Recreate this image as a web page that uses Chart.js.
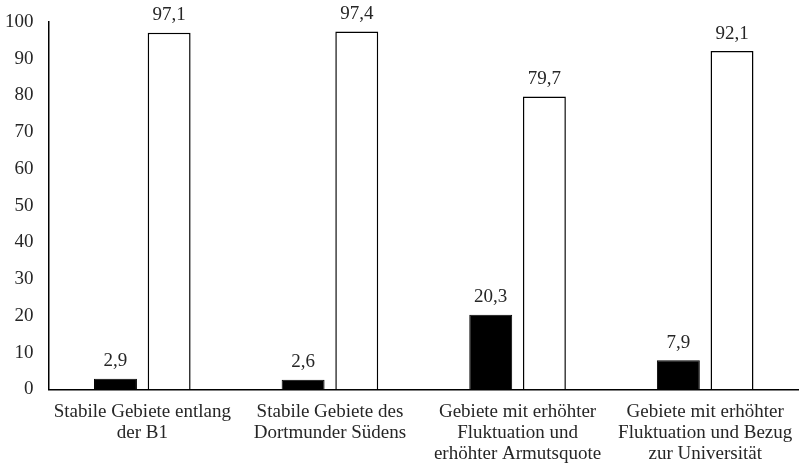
<!DOCTYPE html>
<html>
<head>
<meta charset="utf-8">
<script src="https://cdn.jsdelivr.net/npm/chart.js@4"></script>
<style>
  html, body { margin: 0; padding: 0; background: #fff; }
  #wrap { width: 799px; height: 467px; }
</style>
</head>
<body>
<div id="wrap"><canvas id="chart"></canvas></div>
<script>
const categories = [
  ["Stabile Gebiete entlang", "der B1"],
  ["Stabile Gebiete des", "Dortmunder Südens"],
  ["Gebiete mit erhöhter", "Fluktuation und", "erhöhter Armutsquote"],
  ["Gebiete mit erhöhter", "Fluktuation und Bezug", "zur Universität"]
];
const blackValues = [2.9, 2.6, 20.3, 7.9];
const whiteValues = [97.1, 97.4, 79.7, 92.1];
const yTicks = [0, 10, 20, 30, 40, 50, 60, 70, 80, 90, 100];

const FONT = "'Liberation Serif', 'Times New Roman', serif";
const TEXT = "#262626";

// value labels above each bar, decimal comma
const valueLabels = {
  id: "valueLabels",
  afterDatasetsDraw(chart) {
    const ctx = chart.ctx;
    ctx.save();
    ctx.font = "19px " + FONT;
    ctx.fillStyle = TEXT;
    ctx.textAlign = "center";
    ctx.textBaseline = "bottom";
    chart.data.datasets.forEach((ds, i) => {
      chart.getDatasetMeta(i).data.forEach((bar, j) => {
        const txt = ds.data[j].toFixed(1).replace(".", ",");
        ctx.fillText(txt, bar.x, bar.y - 8);
      });
    });
    ctx.restore();
  }
};

new Chart(document.getElementById("chart"), {
  type: "bar",
  data: {
    labels: categories,
    datasets: [
      {
        data: blackValues,
        backgroundColor: "#000",
        borderColor: "#000",
        borderWidth: 1
      },
      {
        data: whiteValues,
        backgroundColor: "#fff",
        borderColor: "#000",
        borderWidth: 1.5
      }
    ]
  },
  options: {
    responsive: true,
    maintainAspectRatio: false,
    animation: false,
    layout: { padding: { top: 22, right: 0, left: -10, bottom: -9 } },
    datasets: {
      bar: { categoryPercentage: 0.572, barPercentage: 0.8 }
    },
    plugins: {
      legend: { display: false },
      tooltip: { enabled: false }
    },
    scales: {
      x: {
        afterFit(scale) { scale.paddingRight = 0; },
        grid: { display: false, drawTicks: false },
        border: { display: true, color: "#000", width: 1.5 },
        ticks: {
          color: TEXT,
          font: { family: FONT, size: 19, lineHeight: 1.1 },
          padding: 12,
          maxRotation: 0,
          autoSkip: false
        }
      },
      y: {
        min: 0,
        max: 100,
        afterBuildTicks(axis) {
          axis.ticks = yTicks.map(v => ({ value: v }));
        },
        afterFit(scale) { scale.paddingTop = 0; },
        grid: { display: false, drawTicks: false },
        border: { display: true, color: "#000", width: 1.5 },
        ticks: {
          color: TEXT,
          font: { family: FONT, size: 19 },
          padding: 15
        }
      }
    }
  },
  plugins: [valueLabels]
});
</script>
</body>
</html>
